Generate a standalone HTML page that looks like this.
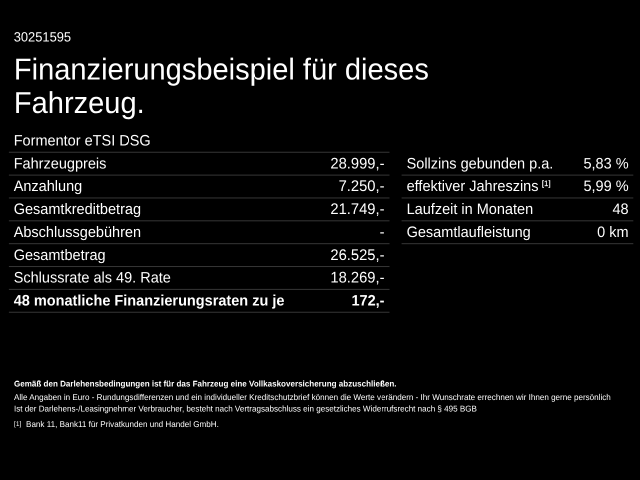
<!DOCTYPE html>
<html><head><meta charset="utf-8">
<style>
html,body{margin:0;padding:0;background:#000;}
body{width:640px;height:480px;overflow:hidden;position:relative;}
#s{will-change:transform;position:absolute;left:0;top:0;width:1280px;height:960px;transform:scale(0.5000000);transform-origin:0 0;font-family:"Liberation Sans",sans-serif;color:#fff;text-rendering:geometricPrecision;}
.ln{position:absolute;height:1px;}
.x{position:absolute;white-space:nowrap;}
.sup{font-size:0.52em;position:relative;top:-0.68em;margin-left:0.44em;letter-spacing:0.03em;-webkit-text-stroke:0.35px #fff;}
</style></head><body>
<div class="ln" style="left:9px;top:151px;width:380px;background:rgb(14,14,14)"></div>
<div class="ln" style="left:8px;top:151px;width:1px;background:rgb(1,1,1)"></div>
<div class="ln" style="left:389px;top:151px;width:1px;background:rgb(7,7,7)"></div>
<div class="ln" style="left:9px;top:152px;width:380px;background:rgb(40,40,40)"></div>
<div class="ln" style="left:8px;top:152px;width:1px;background:rgb(4,4,4)"></div>
<div class="ln" style="left:389px;top:152px;width:1px;background:rgb(20,20,20)"></div>
<div class="ln" style="left:9px;top:174px;width:380px;background:rgb(21,21,21)"></div>
<div class="ln" style="left:8px;top:174px;width:1px;background:rgb(2,2,2)"></div>
<div class="ln" style="left:389px;top:174px;width:1px;background:rgb(10,10,10)"></div>
<div class="ln" style="left:9px;top:175px;width:380px;background:rgb(33,33,33)"></div>
<div class="ln" style="left:8px;top:175px;width:1px;background:rgb(3,3,3)"></div>
<div class="ln" style="left:389px;top:175px;width:1px;background:rgb(16,16,16)"></div>
<div class="ln" style="left:9px;top:197px;width:380px;background:rgb(29,29,29)"></div>
<div class="ln" style="left:8px;top:197px;width:1px;background:rgb(3,3,3)"></div>
<div class="ln" style="left:389px;top:197px;width:1px;background:rgb(14,14,14)"></div>
<div class="ln" style="left:9px;top:198px;width:380px;background:rgb(25,25,25)"></div>
<div class="ln" style="left:8px;top:198px;width:1px;background:rgb(2,2,2)"></div>
<div class="ln" style="left:389px;top:198px;width:1px;background:rgb(12,12,12)"></div>
<div class="ln" style="left:9px;top:220px;width:380px;background:rgb(37,37,37)"></div>
<div class="ln" style="left:8px;top:220px;width:1px;background:rgb(4,4,4)"></div>
<div class="ln" style="left:389px;top:220px;width:1px;background:rgb(18,18,18)"></div>
<div class="ln" style="left:9px;top:221px;width:380px;background:rgb(17,17,17)"></div>
<div class="ln" style="left:8px;top:221px;width:1px;background:rgb(2,2,2)"></div>
<div class="ln" style="left:389px;top:221px;width:1px;background:rgb(8,8,8)"></div>
<div class="ln" style="left:9px;top:243px;width:380px;background:rgb(44,44,44)"></div>
<div class="ln" style="left:8px;top:243px;width:1px;background:rgb(4,4,4)"></div>
<div class="ln" style="left:389px;top:243px;width:1px;background:rgb(22,22,22)"></div>
<div class="ln" style="left:9px;top:244px;width:380px;background:rgb(10,10,10)"></div>
<div class="ln" style="left:8px;top:244px;width:1px;background:rgb(1,1,1)"></div>
<div class="ln" style="left:389px;top:244px;width:1px;background:rgb(5,5,5)"></div>
<div class="ln" style="left:9px;top:266px;width:380px;background:rgb(52,52,52)"></div>
<div class="ln" style="left:8px;top:266px;width:1px;background:rgb(5,5,5)"></div>
<div class="ln" style="left:389px;top:266px;width:1px;background:rgb(26,26,26)"></div>
<div class="ln" style="left:9px;top:267px;width:380px;background:rgb(2,2,2)"></div>
<div class="ln" style="left:389px;top:267px;width:1px;background:rgb(1,1,1)"></div>
<div class="ln" style="left:9px;top:288px;width:380px;background:rgb(6,6,6)"></div>
<div class="ln" style="left:8px;top:288px;width:1px;background:rgb(1,1,1)"></div>
<div class="ln" style="left:389px;top:288px;width:1px;background:rgb(3,3,3)"></div>
<div class="ln" style="left:9px;top:289px;width:380px;background:rgb(48,48,48)"></div>
<div class="ln" style="left:8px;top:289px;width:1px;background:rgb(5,5,5)"></div>
<div class="ln" style="left:389px;top:289px;width:1px;background:rgb(24,24,24)"></div>
<div class="ln" style="left:9px;top:311px;width:380px;background:rgb(14,14,14)"></div>
<div class="ln" style="left:8px;top:311px;width:1px;background:rgb(1,1,1)"></div>
<div class="ln" style="left:389px;top:311px;width:1px;background:rgb(7,7,7)"></div>
<div class="ln" style="left:9px;top:312px;width:380px;background:rgb(40,40,40)"></div>
<div class="ln" style="left:8px;top:312px;width:1px;background:rgb(4,4,4)"></div>
<div class="ln" style="left:389px;top:312px;width:1px;background:rgb(20,20,20)"></div>
<div class="ln" style="left:402px;top:174px;width:231px;background:rgb(21,21,21)"></div>
<div class="ln" style="left:401px;top:174px;width:1px;background:rgb(8,8,8)"></div>
<div class="ln" style="left:633px;top:174px;width:1px;background:rgb(6,6,6)"></div>
<div class="ln" style="left:402px;top:175px;width:231px;background:rgb(33,33,33)"></div>
<div class="ln" style="left:401px;top:175px;width:1px;background:rgb(13,13,13)"></div>
<div class="ln" style="left:633px;top:175px;width:1px;background:rgb(10,10,10)"></div>
<div class="ln" style="left:402px;top:197px;width:231px;background:rgb(29,29,29)"></div>
<div class="ln" style="left:401px;top:197px;width:1px;background:rgb(12,12,12)"></div>
<div class="ln" style="left:633px;top:197px;width:1px;background:rgb(9,9,9)"></div>
<div class="ln" style="left:402px;top:198px;width:231px;background:rgb(25,25,25)"></div>
<div class="ln" style="left:401px;top:198px;width:1px;background:rgb(10,10,10)"></div>
<div class="ln" style="left:633px;top:198px;width:1px;background:rgb(7,7,7)"></div>
<div class="ln" style="left:402px;top:220px;width:231px;background:rgb(37,37,37)"></div>
<div class="ln" style="left:401px;top:220px;width:1px;background:rgb(15,15,15)"></div>
<div class="ln" style="left:633px;top:220px;width:1px;background:rgb(11,11,11)"></div>
<div class="ln" style="left:402px;top:221px;width:231px;background:rgb(17,17,17)"></div>
<div class="ln" style="left:401px;top:221px;width:1px;background:rgb(7,7,7)"></div>
<div class="ln" style="left:633px;top:221px;width:1px;background:rgb(5,5,5)"></div>
<div class="ln" style="left:402px;top:243px;width:231px;background:rgb(44,44,44)"></div>
<div class="ln" style="left:401px;top:243px;width:1px;background:rgb(18,18,18)"></div>
<div class="ln" style="left:633px;top:243px;width:1px;background:rgb(13,13,13)"></div>
<div class="ln" style="left:402px;top:244px;width:231px;background:rgb(10,10,10)"></div>
<div class="ln" style="left:401px;top:244px;width:1px;background:rgb(4,4,4)"></div>
<div class="ln" style="left:633px;top:244px;width:1px;background:rgb(3,3,3)"></div>
<div id="s">
<div class="x" style="left:27.40px;top:57.65px;font-size:25.800px;line-height:34px;transform:scaleY(1.045);transform-origin:0 25.94px;">30251595</div>
<div class="x" style="left:27.80px;top:102.05px;font-size:58.100px;line-height:76px;transform:scaleY(1.04);transform-origin:0 58.13px;">Finanzierungsbeispiel für dieses</div>
<div class="x" style="left:27.80px;top:169.05px;font-size:58.100px;line-height:76px;transform:scaleY(1.04);transform-origin:0 58.13px;">Fahrzeug.</div>
<div class="x" style="left:27.40px;top:262.65px;font-size:29.000px;line-height:38px;transform:scaleY(1.045);transform-origin:0 29.05px;">Formentor eTSI DSG</div>
<div class="x" style="left:27.40px;top:308.65px;font-size:29.000px;line-height:38px;transform:scaleY(1.045);transform-origin:0 29.05px;">Fahrzeugpreis</div>
<div class="x" style="right:511.00px;top:308.66px;font-size:29.500px;line-height:38px;transform:scaleY(1.045);transform-origin:100% 29.22px;">28.999,-</div>
<div class="x" style="left:27.40px;top:354.36px;font-size:29.000px;line-height:38px;transform:scaleY(1.045);transform-origin:0 29.05px;">Anzahlung</div>
<div class="x" style="right:511.00px;top:354.38px;font-size:29.500px;line-height:38px;transform:scaleY(1.045);transform-origin:100% 29.22px;">7.250,-</div>
<div class="x" style="left:27.40px;top:400.09px;font-size:29.000px;line-height:38px;transform:scaleY(1.045);transform-origin:0 29.05px;">Gesamtkreditbetrag</div>
<div class="x" style="right:511.00px;top:400.09px;font-size:29.500px;line-height:38px;transform:scaleY(1.045);transform-origin:100% 29.22px;">21.749,-</div>
<div class="x" style="left:27.40px;top:445.80px;font-size:29.000px;line-height:38px;transform:scaleY(1.045);transform-origin:0 29.05px;">Abschlussgebühren</div>
<div class="x" style="right:511.00px;top:445.80px;font-size:29.500px;line-height:38px;transform:scaleY(1.045);transform-origin:100% 29.22px;">-</div>
<div class="x" style="left:27.40px;top:491.51px;font-size:29.000px;line-height:38px;transform:scaleY(1.045);transform-origin:0 29.05px;">Gesamtbetrag</div>
<div class="x" style="right:511.00px;top:491.51px;font-size:29.500px;line-height:38px;transform:scaleY(1.045);transform-origin:100% 29.22px;">26.525,-</div>
<div class="x" style="left:27.40px;top:537.23px;font-size:29.000px;line-height:38px;transform:scaleY(1.045);transform-origin:0 29.05px;">Schlussrate als 49. Rate</div>
<div class="x" style="right:511.00px;top:537.24px;font-size:29.500px;line-height:38px;transform:scaleY(1.045);transform-origin:100% 29.22px;">18.269,-</div>
<div class="x" style="left:27.40px;top:582.94px;font-size:29.000px;line-height:38px;transform:scaleY(1.045);transform-origin:0 29.05px;font-weight:bold;">48 monatliche Finanzierungsraten zu je</div>
<div class="x" style="right:511.00px;top:582.94px;font-size:29.000px;line-height:38px;transform:scaleY(1.045);transform-origin:100% 29.05px;font-weight:bold;">172,-</div>
<div class="x" style="left:813.20px;top:308.65px;font-size:29.000px;line-height:38px;transform:scaleY(1.045);transform-origin:0 29.05px;">Sollzins gebunden p.a.</div>
<div class="x" style="right:22.80px;top:308.65px;font-size:29.000px;line-height:38px;transform:scaleY(1.045);transform-origin:100% 29.05px;">5,83 %</div>
<div class="x" style="left:813.20px;top:354.36px;font-size:29.000px;line-height:38px;transform:scaleY(1.045);transform-origin:0 29.05px;">effektiver Jahreszins<span class="sup">[1]</span></div>
<div class="x" style="right:22.80px;top:354.36px;font-size:29.000px;line-height:38px;transform:scaleY(1.045);transform-origin:100% 29.05px;">5,99 %</div>
<div class="x" style="left:813.20px;top:400.09px;font-size:29.000px;line-height:38px;transform:scaleY(1.045);transform-origin:0 29.05px;">Laufzeit in Monaten</div>
<div class="x" style="right:22.80px;top:400.09px;font-size:29.000px;line-height:38px;transform:scaleY(1.045);transform-origin:100% 29.05px;">48</div>
<div class="x" style="left:813.20px;top:445.80px;font-size:29.000px;line-height:38px;transform:scaleY(1.045);transform-origin:0 29.05px;">Gesamtlaufleistung</div>
<div class="x" style="right:22.80px;top:445.80px;font-size:29.000px;line-height:38px;transform:scaleY(1.045);transform-origin:100% 29.05px;">0 km</div>
<div class="x" style="left:28.00px;top:758.47px;font-size:16.120px;line-height:21px;transform:scaleY(1.045);transform-origin:0 16.09px;font-weight:bold;">Gemäß den Darlehensbedingungen ist für das Fahrzeug eine Vollkaskoversicherung abzuschließen.</div>
<div class="x" style="left:28.00px;top:784.56px;font-size:16.160px;line-height:21px;transform:scaleY(1.045);transform-origin:0 16.10px;">Alle Angaben in Euro - Rundungsdifferenzen und ein individueller Kreditschutzbrief können die Werte verändern - Ihr Wunschrate errechnen wir Ihnen gerne persönlich</div>
<div class="x" style="left:28.00px;top:807.86px;font-size:16.160px;line-height:21px;transform:scaleY(1.045);transform-origin:0 16.10px;">Ist der Darlehens-/Leasingnehmer Verbraucher, besteht nach Vertragsabschluss ein gesetzliches Widerrufsrecht nach § 495 BGB</div>
<div class="x" style="left:28.00px;top:838.86px;font-size:16.160px;line-height:21px;transform:scaleY(1.045);transform-origin:0 16.10px;"><span style="font-size:0.8em;position:relative;top:-0.12em;letter-spacing:0.01em;">[1]</span><span style="margin-left:0.58em">Bank 11, Bank11 für Privatkunden und Handel GmbH.</span></div>
</div></body></html>
